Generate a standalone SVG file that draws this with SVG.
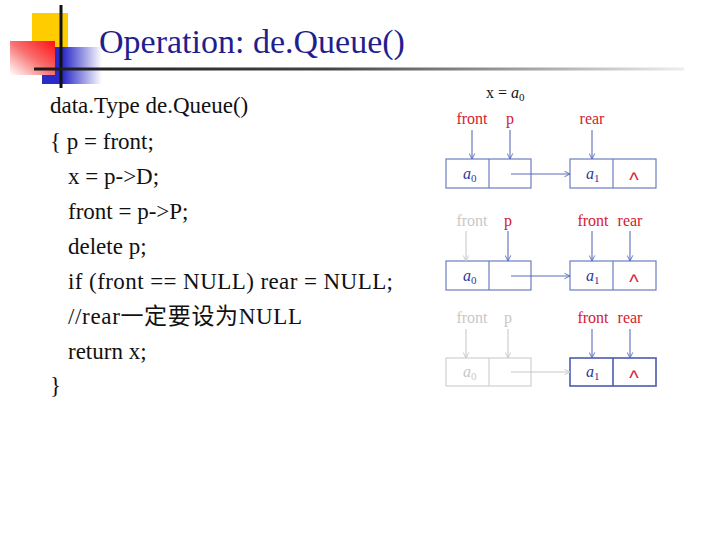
<svg xmlns="http://www.w3.org/2000/svg" width="720" height="540" viewBox="0 0 720 540">
<defs>
<linearGradient id="gRed" x1="1" y1="0" x2="0" y2="1">
<stop offset="0" stop-color="#ff1010"/>
<stop offset="0.5" stop-color="#f87070"/>
<stop offset="1" stop-color="#ffffff"/>
</linearGradient>
<linearGradient id="gBlue" x1="0" y1="0" x2="1" y2="0">
<stop offset="0" stop-color="#2a2ac8"/>
<stop offset="0.35" stop-color="#2a2ac8"/>
<stop offset="1" stop-color="#ffffff"/>
</linearGradient>
<linearGradient id="gLine" x1="0" y1="0" x2="1" y2="0">
<stop offset="0" stop-color="#1a1a1a"/>
<stop offset="0.45" stop-color="#444444"/>
<stop offset="0.8" stop-color="#b0b0b0"/>
<stop offset="1" stop-color="#eeeeee"/>
</linearGradient>
<marker id="ah" viewBox="0 0 10 10" refX="9" refY="5" markerWidth="7" markerHeight="7" orient="auto" markerUnits="userSpaceOnUse">
<polyline points="1,1 9,5 1,9" fill="none" stroke="#5a6cbc" stroke-width="1.3"/>
</marker>
<marker id="ahg" viewBox="0 0 10 10" refX="9" refY="5" markerWidth="7" markerHeight="7" orient="auto" markerUnits="userSpaceOnUse">
<polyline points="1,1 9,5 1,9" fill="none" stroke="#c8c8c8" stroke-width="1.3"/>
</marker>
<style>
.title{font-family:"Liberation Serif","Times New Roman",serif;font-size:34px;fill:#1f1f8f}
.code{font-family:"Liberation Serif","Noto Sans CJK SC",serif;font-size:23px;fill:#111111}
.lbl{font-family:"Liberation Serif",serif;font-size:16px}
.red{fill:#d42030}
.gray{fill:#c8c8c8}
.val{font-family:"Liberation Serif",serif;font-size:16px;font-style:italic;fill:#2a3a9a}
.valg{font-family:"Liberation Serif",serif;font-size:16px;font-style:italic;fill:#c8c8c8}
.sub{font-size:11px;font-style:normal}
.box{fill:none;stroke:#6a7cc4;stroke-width:1.2}
.boxd{fill:none;stroke:#4a5cb0;stroke-width:1.6}
.boxg{fill:none;stroke:#d0d0d0;stroke-width:1.2}
.ptr{stroke:#5a6cbc;stroke-width:1.1;fill:none}
.ptrg{stroke:#c8c8c8;stroke-width:1.1;fill:none}
.nil{font-family:"Liberation Sans",sans-serif;font-size:20px;fill:#d42030}
</style>
</defs>
<rect width="720" height="540" fill="#ffffff"/>
<g id="logo">
<rect x="32" y="13" width="36" height="34" fill="#ffcc00"/>
<rect x="42" y="47" width="60" height="37" fill="url(#gBlue)"/>
<rect x="10" y="41" width="45" height="34" fill="url(#gRed)"/>
<line x1="61" y1="5" x2="61" y2="88" stroke="#111111" stroke-width="3"/>
<rect x="34" y="67.5" width="650" height="3" fill="url(#gLine)"/>
</g>
<text class="title" x="99" y="53">Operation: de.Queue()</text>
<g id="code">
<text class="code" x="50" y="113">data.Type de.Queue()</text>
<text class="code" x="50" y="149">{ p = front;</text>
<text class="code" x="68" y="184">x = p-&gt;D;</text>
<text class="code" x="68" y="219">front = p-&gt;P;</text>
<text class="code" x="68" y="254">delete p;</text>
<text class="code" x="68" y="289" textLength="325" lengthAdjust="spacing">if (front == NULL) rear = NULL;</text>
<text class="code" x="68" y="324" textLength="234" lengthAdjust="spacing">//rear一定要设为NULL</text>
<text class="code" x="68" y="359">return x;</text>
<text class="code" x="50" y="393">}</text>
</g>
<text class="lbl" x="486" y="98" fill="#111">x = <tspan font-style="italic">a</tspan><tspan class="sub" dy="3">0</tspan></text>
<g id="row1">
<text class="lbl red" x="472" y="124" text-anchor="middle">front</text>
<text class="lbl red" x="510" y="124" text-anchor="middle">p</text>
<text class="lbl red" x="592" y="124" text-anchor="middle">rear</text>
<g id="n1a"><rect class="box" x="446" y="159" width="85" height="29"/><line class="box" x1="489" y1="159" x2="489" y2="188"/><text class="val" x="463" y="179">a<tspan class="sub" dy="3">0</tspan></text></g>
<g id="n1b"><rect class="box" x="570" y="159" width="86" height="29"/><line class="box" x1="613" y1="159" x2="613" y2="188"/><text class="val" x="586" y="179">a<tspan class="sub" dy="3">1</tspan></text><text class="nil" x="634" y="187" text-anchor="middle">^</text></g>
</g>
<g id="row2">
<text class="lbl gray" x="472" y="226" text-anchor="middle">front</text>
<text class="lbl red" x="508" y="226" text-anchor="middle">p</text>
<text class="lbl red" x="593" y="226" text-anchor="middle">front</text>
<text class="lbl red" x="630" y="226" text-anchor="middle">rear</text>
<g id="n2a"><rect class="box" x="446" y="261" width="85" height="29"/><line class="box" x1="489" y1="261" x2="489" y2="290"/><text class="val" x="463" y="281">a<tspan class="sub" dy="3">0</tspan></text></g>
<g id="n2b"><rect class="box" x="570" y="261" width="86" height="29"/><line class="box" x1="613" y1="261" x2="613" y2="290"/><text class="val" x="586" y="281">a<tspan class="sub" dy="3">1</tspan></text><text class="nil" x="634" y="289" text-anchor="middle">^</text></g>
</g>
<g id="row3">
<text class="lbl gray" x="472" y="323" text-anchor="middle">front</text>
<text class="lbl gray" x="508" y="323" text-anchor="middle">p</text>
<text class="lbl red" x="593" y="323" text-anchor="middle">front</text>
<text class="lbl red" x="630" y="323" text-anchor="middle">rear</text>
<g id="n3a"><rect class="boxg" x="446" y="358" width="85" height="28"/><line class="boxg" x1="489" y1="358" x2="489" y2="386"/><text class="valg" x="463" y="377">a<tspan class="sub" dy="3">0</tspan></text></g>
<g id="n3b"><rect class="boxd" x="570" y="358" width="86" height="28"/><line class="boxd" x1="613" y1="358" x2="613" y2="386"/><text class="val" x="586" y="377">a<tspan class="sub" dy="3">1</tspan></text><text class="nil" x="634" y="385" text-anchor="middle">^</text></g>
</g>
<g id="connectors">
<line class="ptr" x1="472" y1="130" x2="472" y2="159" marker-end="url(#ah)"/>
<line class="ptr" x1="510" y1="130" x2="510" y2="159" marker-end="url(#ah)"/>
<line class="ptr" x1="592" y1="130" x2="592" y2="159" marker-end="url(#ah)"/>
<line class="ptr" x1="511" y1="174" x2="570" y2="174" marker-end="url(#ah)"/>
<line class="ptrg" x1="466" y1="231" x2="466" y2="261" marker-end="url(#ahg)"/>
<line class="ptr" x1="508" y1="231" x2="508" y2="261" marker-end="url(#ah)"/>
<line class="ptr" x1="592" y1="231" x2="592" y2="261" marker-end="url(#ah)"/>
<line class="ptr" x1="630" y1="231" x2="630" y2="261" marker-end="url(#ah)"/>
<line class="ptr" x1="511" y1="276" x2="570" y2="276" marker-end="url(#ah)"/>
<line class="ptrg" x1="466" y1="329" x2="466" y2="358" marker-end="url(#ahg)"/>
<line class="ptrg" x1="508" y1="329" x2="508" y2="358" marker-end="url(#ahg)"/>
<line class="ptr" x1="592" y1="329" x2="592" y2="358" marker-end="url(#ah)"/>
<line class="ptr" x1="630" y1="329" x2="630" y2="358" marker-end="url(#ah)"/>
<line class="ptrg" x1="511" y1="372" x2="570" y2="372" marker-end="url(#ahg)"/>
</g>
</svg>
